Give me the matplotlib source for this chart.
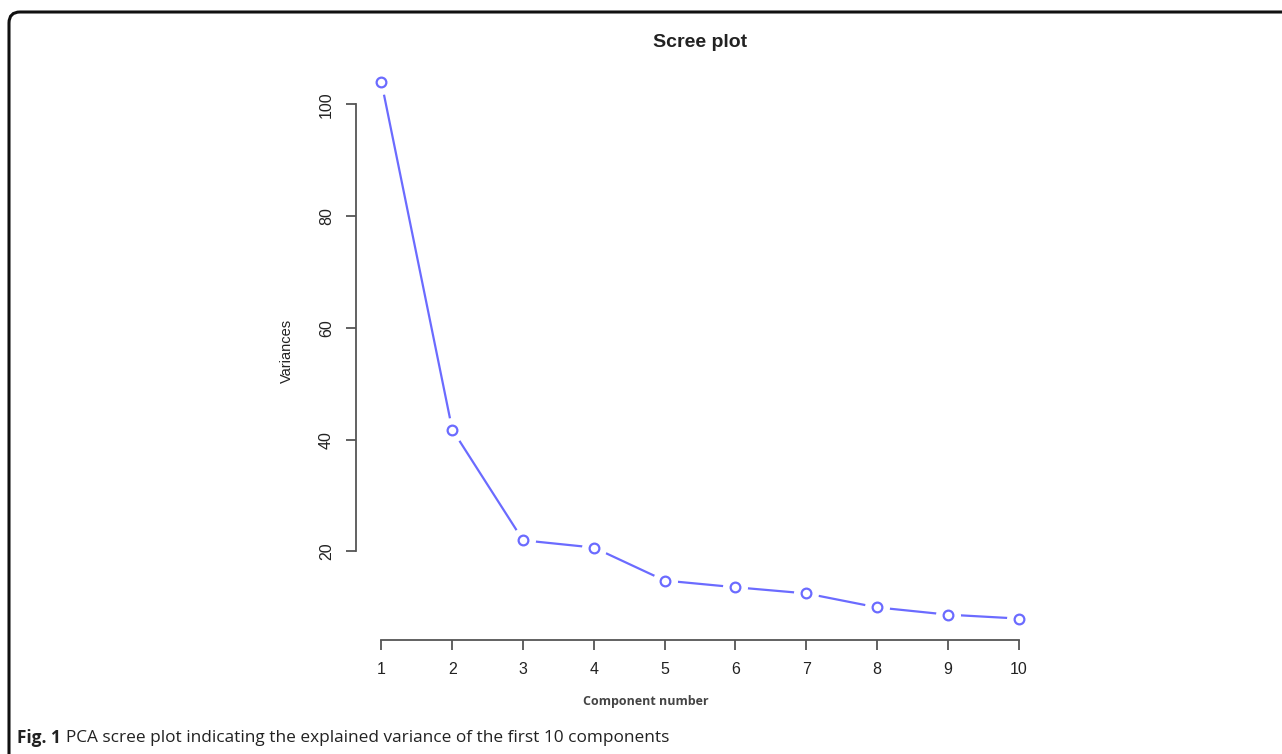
import matplotlib
matplotlib.use("Agg")
import matplotlib.pyplot as plt
import matplotlib.patches as mpatch
from matplotlib.path import Path

# Dados
components = [1, 2, 3, 4, 5, 6, 7, 8, 9, 10]
variances = [103.9, 41.8, 22.0, 20.7, 14.8, 13.6, 12.5, 10.0, 8.7, 8.0]
y_ticks = [20, 40, 60, 80, 100]

W, H = 1282, 754
fig = plt.figure(figsize=(W / 100, H / 100), dpi=100)

# Área do gráfico (estilo R base)
ax = fig.add_axes([356 / W, 1 - 640 / H, (1044 - 356) / W, (640 - 61) / H])

blue = '#6b6bff'
ax.plot(components, variances, '-', color=blue, lw=1.6, zorder=2)
ax.plot(components, variances, 'o', ms=18, mfc='white', mec='none', zorder=3)
ax.plot(components, variances, 'o', ms=7, mfc='white', mec=blue, mew=1.6, zorder=4)

# limites como no R (4% de folga)
span_y = max(variances) - min(variances)
ax.set_ylim(min(variances) - 0.04 * span_y, max(variances) + 0.04 * span_y)
span_x = components[-1] - components[0]
ax.set_xlim(components[0] - 0.04 * span_x, components[-1] + 0.04 * span_x)

axis_col = '#555555'
for s in ['top', 'right']:
    ax.spines[s].set_visible(False)
ax.spines['left'].set_bounds(y_ticks[0], y_ticks[-1])
ax.spines['bottom'].set_bounds(components[0], components[-1])
for s in ['left', 'bottom']:
    ax.spines[s].set_color(axis_col)
    ax.spines[s].set_linewidth(1.3)

ax.set_xticks(components)
ax.set_yticks(y_ticks)
ax.tick_params(axis='both', direction='out', length=7, width=1.3, color=axis_col,
               labelsize=11.5, labelcolor='#222222', pad=9)
ax.tick_params(axis='y', labelrotation=90)
for lab in ax.get_yticklabels():
    lab.set_fontfamily('Liberation Sans')
    lab.set_va('center')
for lab in ax.get_xticklabels():
    lab.set_fontfamily('Liberation Sans')

ax.set_ylabel('Variances', family='Liberation Sans', fontsize=10.5, color='#222222', labelpad=18)
ax.set_title('Scree plot', family='Liberation Sans', fontsize=14, fontweight='bold',
             color='#222222', pad=10)

fig.text(646 / W, 1 - 702 / H, 'Component number', family='Open Sans', fontsize=9,
         fontweight='bold', color='#444444', ha='center', va='center')

# Legenda da figura
t1 = fig.text(17 / W, 1 - 738 / H, 'Fig. 1', family='Open Sans', fontsize=12.4,
              fontweight='bold', color='#222222', ha='left', va='center')
fig.canvas.draw()
bb = t1.get_window_extent()
fig.text((bb.x1 + 5) / W, 1 - 738 / H,
         'PCA scree plot indicating the explained variance of the first 10 components',
         family='Open Sans', fontsize=12.4, color='#222222', ha='left', va='center')

# Moldura arredondada (canto superior esquerdo)
r = 11
x0, y0 = 9, 12
verts = [(x0, H), (x0, y0 + r), (x0, y0), (x0 + r, y0), (W, y0)]
codes = [Path.MOVETO, Path.LINETO, Path.CURVE3, Path.CURVE3, Path.LINETO]
verts = [(x / W, 1 - y / H) for x, y in verts]
frame = mpatch.PathPatch(Path(verts, codes), fill=False, lw=2.2, edgecolor='#111111',
                         transform=fig.transFigure)
fig.patches.append(frame)

fig.savefig('out.png', dpi=100)
